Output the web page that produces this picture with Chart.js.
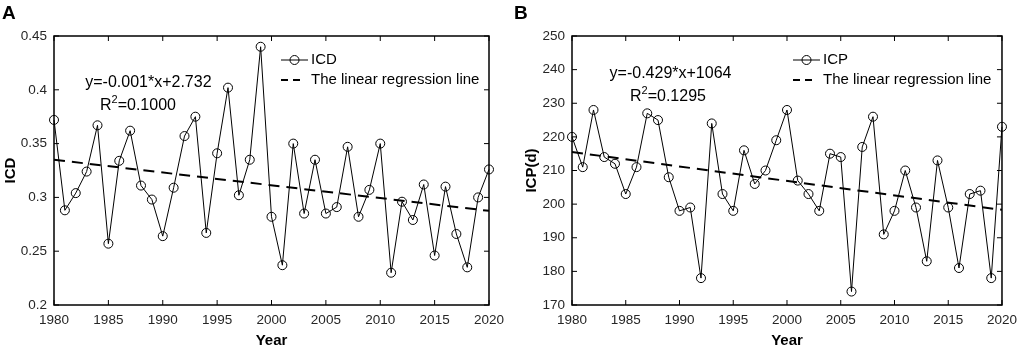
<!DOCTYPE html>
<html>
<head>
<meta charset="utf-8">
<script src="https://cdn.jsdelivr.net/npm/chart.js@4"></script>
<style>
  body { margin: 0; background: #fff; width: 1024px; height: 349px; overflow: hidden; position: relative; }
  .panel { position: absolute; top: 0; width: 512px; height: 349px; }
</style>
</head>
<body>
<div class="panel" style="left:0"><canvas id="chartA" width="512" height="349"></canvas></div>
<div class="panel" style="left:512px"><canvas id="chartB" width="512" height="349"></canvas></div>
<script>
const years = [1980, 1981, 1982, 1983, 1984, 1985, 1986, 1987, 1988, 1989,
  1990, 1991, 1992, 1993, 1994, 1995, 1996, 1997, 1998, 1999,
  2000, 2001, 2002, 2003, 2004, 2005, 2006, 2007, 2008, 2009,
  2010, 2011, 2012, 2013, 2014, 2015, 2016, 2017, 2018, 2019, 2020];

const icdValues = [0.372, 0.288, 0.304, 0.324, 0.367, 0.257, 0.334, 0.362, 0.311, 0.298,
  0.264, 0.309, 0.357, 0.375, 0.267, 0.341, 0.402, 0.302, 0.335, 0.440,
  0.282, 0.237, 0.350, 0.285, 0.335, 0.285, 0.291, 0.347, 0.282, 0.307,
  0.350, 0.230, 0.296, 0.279, 0.312, 0.246, 0.310, 0.266, 0.235, 0.300, 0.326];

const icpValues = [220, 211, 228, 214, 212, 203, 211, 227, 225, 208,
  198, 199, 178, 224, 203, 198, 216, 206, 210, 219,
  228, 207, 203, 198, 215, 214, 174, 217, 226, 191,
  198, 210, 199, 183, 213, 199, 181, 203, 204, 178, 223];

// regression line end points (1980 and 2020)
const trendYears = [1980, 2020];
const icdTrend = [0.335, 0.2875];
const icpTrend = [215.5, 198.3];

const FONT = '"Liberation Sans", Arial, Helvetica, sans-serif';
Chart.defaults.font.family = FONT;

// MATLAB-like box, inward ticks, titles, legend and equation
const framePlugin = {
  id: 'frame',
  afterDraw(chart, args, opts) {
    const { ctx, chartArea: a, scales: { x, y } } = chart;
    ctx.save();
    ctx.strokeStyle = '#000';
    ctx.lineWidth = 1.5;
    ctx.strokeRect(a.left, a.top, a.right - a.left, a.bottom - a.top);

    ctx.lineWidth = 1;
    const tl = 5;
    ctx.beginPath();
    x.ticks.forEach(t => {
      const px = x.getPixelForValue(t.value);
      ctx.moveTo(px, a.bottom); ctx.lineTo(px, a.bottom - tl);
      ctx.moveTo(px, a.top); ctx.lineTo(px, a.top + tl);
    });
    y.ticks.forEach(t => {
      const py = y.getPixelForValue(t.value);
      ctx.moveTo(a.left, py); ctx.lineTo(a.left + tl, py);
      ctx.moveTo(a.right, py); ctx.lineTo(a.right - tl, py);
    });
    ctx.stroke();

    ctx.fillStyle = '#000';
    // panel letter
    ctx.font = 'bold 19px ' + FONT;
    ctx.textAlign = 'left';
    ctx.textBaseline = 'alphabetic';
    ctx.fillText(opts.letter, 2, 19);

    // axis titles
    ctx.font = 'bold 15px ' + FONT;
    ctx.textAlign = 'center';
    ctx.textBaseline = 'middle';
    ctx.fillText('Year', (a.left + a.right) / 2, 341);
    ctx.save();
    ctx.translate(opts.yTitleX, (a.top + a.bottom) / 2);
    ctx.rotate(-Math.PI / 2);
    ctx.fillText(opts.yTitle, 0, 0);
    ctx.restore();

    // legend
    const lx0 = 281, lx1 = 308, r1 = 60, r2 = 80;
    ctx.strokeStyle = '#000';
    ctx.lineWidth = 1;
    ctx.beginPath();
    ctx.moveTo(lx0, r1); ctx.lineTo(lx1, r1);
    ctx.stroke();
    ctx.beginPath();
    ctx.arc((lx0 + lx1) / 2, r1, 4.5, 0, Math.PI * 2);
    ctx.stroke();
    ctx.lineWidth = 2;
    ctx.setLineDash([7, 5]);
    ctx.beginPath();
    ctx.moveTo(lx0, r2); ctx.lineTo(lx0 + 19, r2);
    ctx.stroke();
    ctx.setLineDash([]);
    ctx.font = '15px ' + FONT;
    ctx.textAlign = 'left';
    ctx.textBaseline = 'middle';
    ctx.fillText(opts.seriesName, 311, r1);
    ctx.fillText('The linear regression line', 311, r2);

    // regression equation
    ctx.font = '16px ' + FONT;
    ctx.textAlign = 'center';
    ctx.textBaseline = 'alphabetic';
    ctx.fillText(opts.equation, opts.eqX, opts.eqY);
    ctx.textAlign = 'left';
    let rx = opts.r2X;
    ctx.fillText('R', rx, opts.eqY + 23);
    rx += ctx.measureText('R').width;
    ctx.font = '11px ' + FONT;
    ctx.fillText('2', rx, opts.eqY + 16);
    rx += ctx.measureText('2').width;
    ctx.font = '16px ' + FONT;
    ctx.fillText(opts.r2Text, rx, opts.eqY + 23);
    ctx.restore();
  }
};

function makeChart(id, values, trend, yOpts, layout, frame) {
  const series = years.map((yr, i) => ({ x: yr, y: values[i] }));
  const trendLine = trendYears.map((yr, i) => ({ x: yr, y: trend[i] }));
  return new Chart(document.getElementById(id), {
    type: 'line',
    data: {
      datasets: [{
        data: trendLine,
        borderColor: '#000',
        borderWidth: 2,
        borderDash: [11, 7],
        pointRadius: 0,
        clip: false
      }, {
        data: series,
        borderColor: '#000',
        borderWidth: 1,
        pointRadius: 4.5,
        pointBorderWidth: 1,
        pointBorderColor: '#000',
        pointBackgroundColor: 'rgba(0,0,0,0)',
        tension: 0,
        clip: false
      }]
    },
    options: {
      animation: false,
      responsive: false,
      devicePixelRatio: 1,
      layout: { padding: { left: 0, top: 36, right: layout.right, bottom: 0 } },
      plugins: {
        legend: { display: false },
        tooltip: { enabled: false },
        frame: frame
      },
      scales: {
        x: {
          type: 'linear',
          min: 1980,
          max: 2020,
          grid: { display: false, drawTicks: false },
          border: { display: false },
          ticks: {
            stepSize: 5,
            autoSkip: false,
            maxRotation: 0,
            padding: 7,
            color: '#262626',
            font: { size: 13.5 },
            callback: v => String(v)
          },
          afterFit: s => { s.height = 44; }
        },
        y: {
          min: yOpts.min,
          max: yOpts.max,
          grid: { display: false, drawTicks: false },
          border: { display: false },
          ticks: {
            stepSize: yOpts.step,
            padding: 7,
            color: '#262626',
            font: { size: 13.5 },
            callback: v => String(+v.toFixed(2))
          },
          afterFit: s => { s.width = layout.yWidth; }
        }
      }
    },
    plugins: [framePlugin]
  });
}

makeChart('chartA', icdValues, icdTrend,
  { min: 0.2, max: 0.45, step: 0.05 },
  { right: 23, yWidth: 54 },
  { letter: 'A', yTitle: 'ICD', yTitleX: 11, seriesName: 'ICD',
    equation: 'y=-0.001*x+2.732', eqX: 148.4, eqY: 87, r2X: 100, r2Text: '=0.1000' });

makeChart('chartB', icpValues, icpTrend,
  { min: 170, max: 250, step: 10 },
  { right: 17, yWidth: 60 },
  { letter: 'B', yTitle: 'ICP(d)', yTitleX: 20, seriesName: 'ICP',
    equation: 'y=-0.429*x+1064', eqX: 158.5, eqY: 77.5, r2X: 118, r2Text: '=0.1295' });
</script>
</body>
</html>
